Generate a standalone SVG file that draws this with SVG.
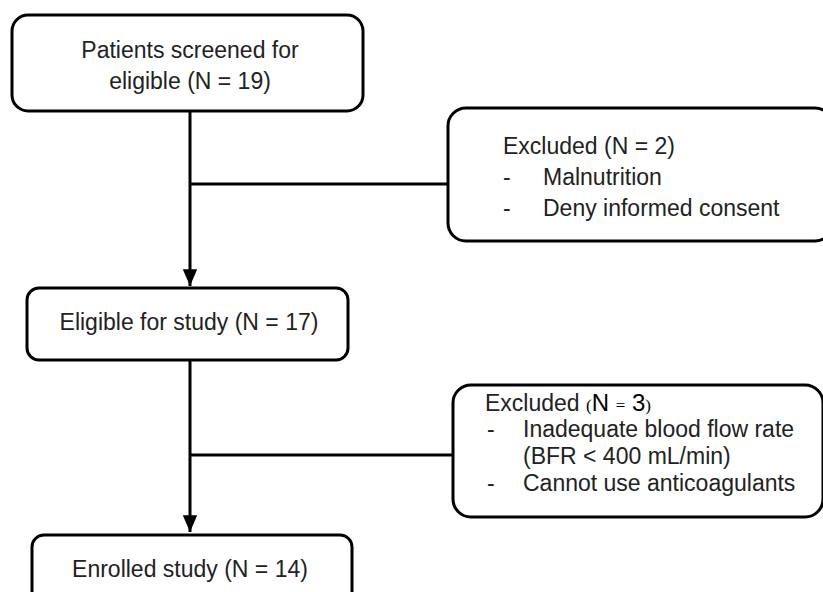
<svg xmlns="http://www.w3.org/2000/svg" width="823" height="592" viewBox="0 0 823 592">
<style>
.box{fill:#fff;stroke:#000;stroke-width:3}
.t{font-family:"Liberation Sans","Open Sans",sans-serif;font-size:23px;fill:#222}
.c{text-anchor:middle}
.ln{stroke:#000;stroke-width:3;fill:none}
.big{font-family:"Liberation Sans",sans-serif;font-size:24px;fill:#000}
.sm{font-family:"Liberation Serif",serif;font-size:17px}
</style>
<defs>
<marker id="ah" markerWidth="6" markerHeight="6" refX="5.6" refY="2.4" orient="auto" markerUnits="strokeWidth">
<path d="M0,0 L5.6,2.4 L0,4.8 Z" fill="#000"/>
</marker>
</defs>
<rect width="823" height="592" fill="#fff"/>
<g id="connectors">
<line class="ln" x1="190" y1="111" x2="190" y2="286" marker-end="url(#ah)"/>
<line class="ln" x1="190" y1="184" x2="448" y2="184"/>
<line class="ln" x1="190" y1="360" x2="190" y2="532" marker-end="url(#ah)"/>
<line class="ln" x1="190" y1="455" x2="453" y2="455"/>
</g>
<g id="screened">
<rect class="box" x="12" y="15" width="351" height="96" rx="16"/>
<text class="t c" x="190" y="58">Patients screened for</text>
<text class="t c" x="190" y="89">eligible (N = 19)</text>
</g>
<g id="excluded1">
<rect class="box" x="448" y="108" width="385" height="133" rx="18"/>
<text class="t" x="503" y="154">Excluded (N = 2)</text>
<text class="t" x="503" y="185">-</text>
<text class="t" x="543" y="185">Malnutrition</text>
<text class="t" x="503" y="216">-</text>
<text class="t" x="543" y="216">Deny informed consent</text>
</g>
<g id="eligible">
<rect class="box" x="27" y="288" width="321" height="72" rx="12"/>
<text class="t c" x="189" y="330">Eligible for study (N = 17)</text>
</g>
<g id="excluded2">
<rect class="box" x="453" y="385" width="370" height="132" rx="18"/>
<text class="t" x="485" y="411">Excluded <tspan class="big"><tspan class="sm">(</tspan>N <tspan class="sm">=</tspan> 3<tspan class="sm">)</tspan></tspan></text>
<text class="t" x="487" y="437">-</text>
<text class="t" x="523" y="437">Inadequate blood flow rate</text>
<text class="t" x="523" y="464">(BFR &lt; 400 mL/min)</text>
<text class="t" x="487" y="491">-</text>
<text class="t" x="523" y="491">Cannot use anticoagulants</text>
</g>
<g id="enrolled">
<rect class="box" x="32" y="535" width="320" height="70" rx="12"/>
<text class="t c" x="190" y="577">Enrolled study (N = 14)</text>
</g>
</svg>
